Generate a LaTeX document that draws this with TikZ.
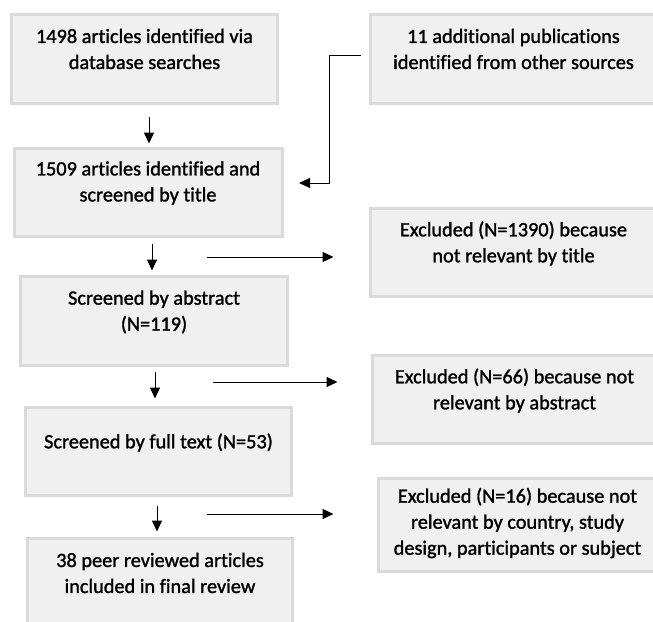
\documentclass[tikz,border=0pt]{standalone}
\usepackage{fontspec}
\setmainfont{Carlito}[Ligatures=NoCommon]
\newfontfamily\boxfont{Carlito}[Ligatures=NoCommon, FakeBold=1.3]
\usepackage{xcolor}
\usetikzlibrary{arrows.meta,positioning}

\definecolor{boxfill}{HTML}{F0F0F0}
\definecolor{boxline}{HTML}{DADADA}

\tikzset{
	box/.style={draw=boxline, fill=boxfill, line width=3pt, inner sep=0pt, minimum height=89pt},
	txt/.style={align=center, inner sep=0pt, text=black, font=\boxfont\fontsize{20.3}{26}\selectfont},
	flow/.style={-{Triangle[length=11pt,width=10pt]}, line width=1pt}
}

\begin{document}
\begin{tikzpicture}[x=1pt,y=-1pt]
		
			\useasboundingbox (0,0) rectangle (653,621);
			\clip (0,0) rectangle (653,621);
			
			% boxes
			\node[box, minimum width=266pt] (ident) at (144.5,59) {};
			\node[box, minimum width=286pt] (other) at (513.5,59) {};
			\node[box, minimum width=268pt, minimum height=88pt] (screen) at (148,192.5) {};
			\node[box, minimum width=286pt, minimum height=88pt] (exctitle) at (513.5,252.5) {};
			\node[box, minimum width=267pt] (abstr) at (154,321) {};
			\node[box, minimum width=284pt, minimum height=88pt] (excabs) at (514.5,399.5) {};
			\node[box, minimum width=266pt, minimum height=88pt] (fulltext) at (158.5,451.5) {};
			\node[box, minimum width=278pt, minimum height=93pt] (excfull) at (517.5,525) {};
			\node[box, minimum width=265pt, minimum height=90pt] (incl) at (160,583.5) {};
			
			% texts
			\node[txt] (t-ident) at ([yshift=-36pt]ident.north) {1498 articles identified via\\database searches};
			\node[txt] (t-other) at ([yshift=-36pt]other.north) {11 additional publications\\identified from other sources};
			\node[txt] (t-screen) at ([yshift=-36pt]screen.north) {1509 articles identified and\\screened by title};
			\node[txt] (t-exctitle) at ([yshift=-36.5pt]exctitle.north) {Excluded (N=1390) because\\not relevant by title};
			\node[txt] (t-abstr) at ([yshift=-37pt]abstr.north) {Screened by abstract\\(N=119)};
			\node[txt] (t-excabs) at ([yshift=-36.5pt]excabs.north) {Excluded (N=66) because not\\relevant by abstract};
			\node[txt] (t-fulltext) at ([yshift=-36.5pt]fulltext.north) {Screened by full text (N=53)};
			\node[txt] (t-excfull) at ([yshift=-46pt]excfull.north) {Excluded (N=16) because not\\relevant by country, study\\design, participants or subject};
			\node[txt] (t-incl) at ([yshift=-36pt]incl.north) {38 peer reviewed articles\\included in final review};
			
			% main flow
			\draw[flow, shorten <=11.5pt, shorten >=3.5pt] ([xshift=4.5pt]ident.south) -- ([xshift=4.5pt]ident.south |- screen.north);
			\draw[flow, shorten <=5.5pt, shorten >=4.5pt] ([xshift=4pt]screen.south) -- ([xshift=4pt]screen.south |- abstr.north);
			\draw[flow, shorten <=4.5pt, shorten >=7.5pt] ([xshift=1pt]abstr.south) -- ([xshift=1pt]abstr.south |- fulltext.north);
			\draw[flow, shorten <=8.5pt, shorten >=5.5pt] ([xshift=-1.5pt]fulltext.south) -- ([xshift=-1.5pt]fulltext.south |- incl.north);
			
			% extra sources
			\coordinate (join) at (329,183);
			\draw[flow, shorten >=15.5pt] ([xshift=-8pt,yshift=4pt]other.west) -| (join) -- (join -| screen.east);
			
			% exclusions
			\coordinate (out1) at (207,257);
			\coordinate (out2) at (213,382);
			\coordinate (out3) at (207,514);
			\draw[flow, shorten >=35.5pt] (out1) -- (out1 -| exctitle.west);
			\draw[flow, shorten >=33.5pt] (out2) -- (out2 -| excabs.west);
			\draw[flow, shorten >=43.5pt] (out3) -- (out3 -| excfull.west);

		\end{tikzpicture}
\end{document}
